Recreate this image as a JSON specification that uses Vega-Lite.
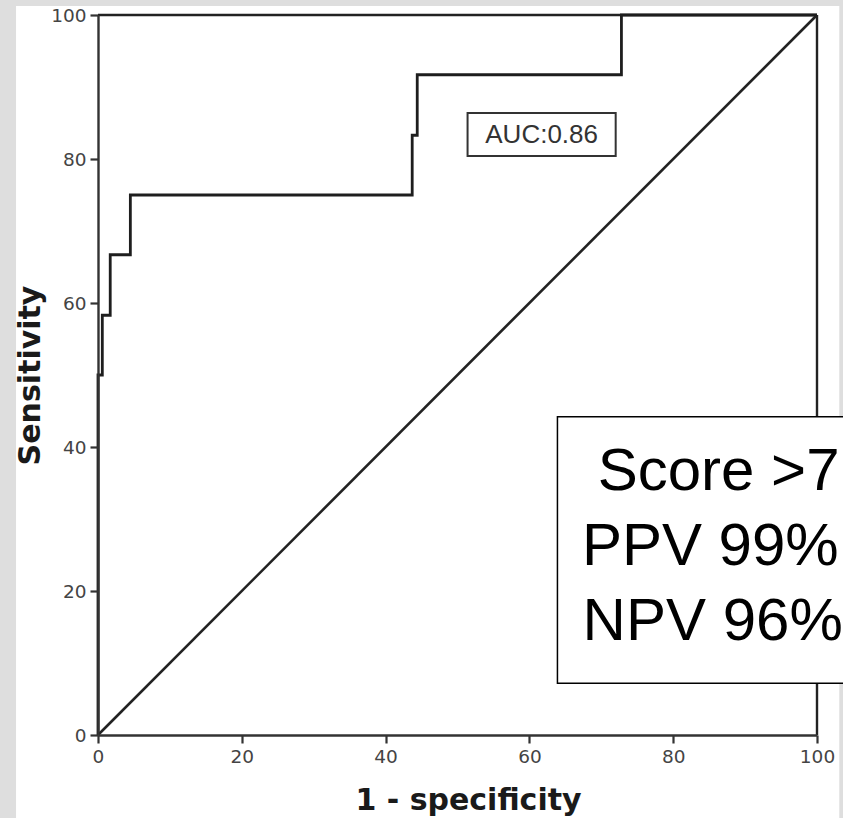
{
  "$schema": "https://vega.github.io/schema/vega-lite/v6.json",
  "width": 719,
  "height": 720,
  "autosize": {"type": "none"},
  "padding": {"left": 98, "top": 15, "right": 26, "bottom": 83},
  "background": "#dedede",
  "view": {"stroke": null},
  "datasets": {
    "roc": [
      {"fpr": 0, "sens": 0},
      {"fpr": 0, "sens": 50},
      {"fpr": 0.6, "sens": 58.3},
      {"fpr": 1.7, "sens": 66.7},
      {"fpr": 4.5, "sens": 75},
      {"fpr": 43.7, "sens": 83.3},
      {"fpr": 44.4, "sens": 91.7},
      {"fpr": 72.8, "sens": 100},
      {"fpr": 100, "sens": 100}
    ],
    "diag": [
      {"fpr": 0, "sens": 0},
      {"fpr": 100, "sens": 100}
    ],
    "auc": [{"label": "AUC:0.86"}],
    "stats": [{"line": "Score >7"}, {"line": "PPV 99%"}, {"line": "NPV 96%"}]
  },
  "layer": [
    {
      "data": {"values": [{}]},
      "mark": {"type": "rect", "fill": "white", "clip": false},
      "encoding": {
        "x": {"datum": -11.4, "type": "quantitative", "scale": {"domain": [0, 100], "nice": false}, "axis": {"zindex": 1}},
        "x2": {"datum": 103.1},
        "y": {"datum": 101.25, "type": "quantitative", "scale": {"domain": [0, 100], "nice": false}, "axis": {"zindex": 1}},
        "y2": {"datum": -14}
      }
    },
    {
      "data": {"values": [{}]},
      "mark": {"type": "rule", "color": "#222", "strokeWidth": 2.4},
      "encoding": {"y": {"datum": 100, "type": "quantitative"}}
    },
    {
      "data": {"values": [{}]},
      "mark": {"type": "rule", "color": "#222", "strokeWidth": 2.4},
      "encoding": {"x": {"datum": 100, "type": "quantitative"}}
    },
    {
      "data": {"name": "diag"},
      "mark": {"type": "line", "color": "#222", "strokeWidth": 2.6},
      "encoding": {
        "x": {"field": "fpr", "type": "quantitative"},
        "y": {"field": "sens", "type": "quantitative"}
      }
    },
    {
      "data": {"name": "roc"},
      "mark": {"type": "line", "interpolate": "step-after", "color": "#1e1e1e", "strokeWidth": 2.8},
      "encoding": {
        "x": {
          "field": "fpr", "type": "quantitative",
          "scale": {"domain": [0, 100], "nice": false},
          "axis": {"title": "1 - specificity", "values": [0, 20, 40, 60, 80, 100], "labelPadding": 4, "titlePadding": 20, "titleX": 370, "zindex": 1}
        },
        "y": {
          "field": "sens", "type": "quantitative",
          "scale": {"domain": [0, 100], "nice": false},
          "axis": {"title": "Sensitivity", "values": [0, 20, 40, 60, 80, 100], "labelPadding": 4, "titlePadding": 5, "zindex": 1}
        }
      }
    },
    {
      "data": {"name": "auc"},
      "mark": {"type": "rect", "fill": "white", "stroke": "#333", "strokeWidth": 2},
      "encoding": {
        "x": {"datum": 51.4, "type": "quantitative"},
        "x2": {"datum": 72.0},
        "y": {"datum": 80.4, "type": "quantitative"},
        "y2": {"datum": 86.4}
      }
    },
    {
      "data": {"name": "auc"},
      "mark": {"type": "text", "font": "Liberation Sans", "fontSize": 26, "color": "#333", "align": "center", "baseline": "middle"},
      "encoding": {
        "x": {"datum": 61.7, "type": "quantitative"},
        "y": {"datum": 83.3, "type": "quantitative"},
        "text": {"field": "label"}
      }
    },
    {
      "data": {"values": [{}]},
      "mark": {"type": "rect", "fill": "white", "stroke": "black", "strokeWidth": 1.5, "clip": false},
      "encoding": {
        "x": {"datum": 63.9, "type": "quantitative"},
        "x2": {"datum": 118},
        "y": {"datum": 7.2, "type": "quantitative"},
        "y2": {"datum": 44.2}
      }
    },
    {
      "data": {"name": "stats"},
      "transform": [{"filter": "datum.line == 'Score >7'"}],
      "mark": {"type": "text", "font": "Liberation Sans", "fontSize": 60, "color": "black", "align": "left", "baseline": "alphabetic", "clip": false},
      "encoding": {
        "x": {"datum": 69.5, "type": "quantitative"},
        "y": {"datum": 34.0, "type": "quantitative"},
        "text": {"field": "line"}
      }
    },
    {
      "data": {"name": "stats"},
      "transform": [{"filter": "datum.line == 'PPV 99%'"}],
      "mark": {"type": "text", "font": "Liberation Sans", "fontSize": 60, "color": "black", "align": "left", "baseline": "alphabetic", "clip": false},
      "encoding": {
        "x": {"datum": 67.3, "type": "quantitative"},
        "y": {"datum": 23.6, "type": "quantitative"},
        "text": {"field": "line"}
      }
    },
    {
      "data": {"name": "stats"},
      "transform": [{"filter": "datum.line == 'NPV 96%'"}],
      "mark": {"type": "text", "font": "Liberation Sans", "fontSize": 60, "color": "black", "align": "left", "baseline": "alphabetic", "clip": false},
      "encoding": {
        "x": {"datum": 67.4, "type": "quantitative"},
        "y": {"datum": 13.2, "type": "quantitative"},
        "text": {"field": "line"}
      }
    }
  ],
  "config": {
    "axis": {
      "domainColor": "#333",
      "domainWidth": 2.4,
      "tickColor": "#333",
      "tickWidth": 2.2,
      "tickSize": 8,
      "labelFont": "DejaVu Sans",
      "labelFontSize": 18.5,
      "labelColor": "#444",
      "labelFlush": false,
      "labelOverlap": false,
      "grid": false,
      "titleFont": "DejaVu Sans",
      "titleFontSize": 30,
      "titleFontWeight": "bold",
      "titleColor": "#1a1a1a"
    }
  }
}
